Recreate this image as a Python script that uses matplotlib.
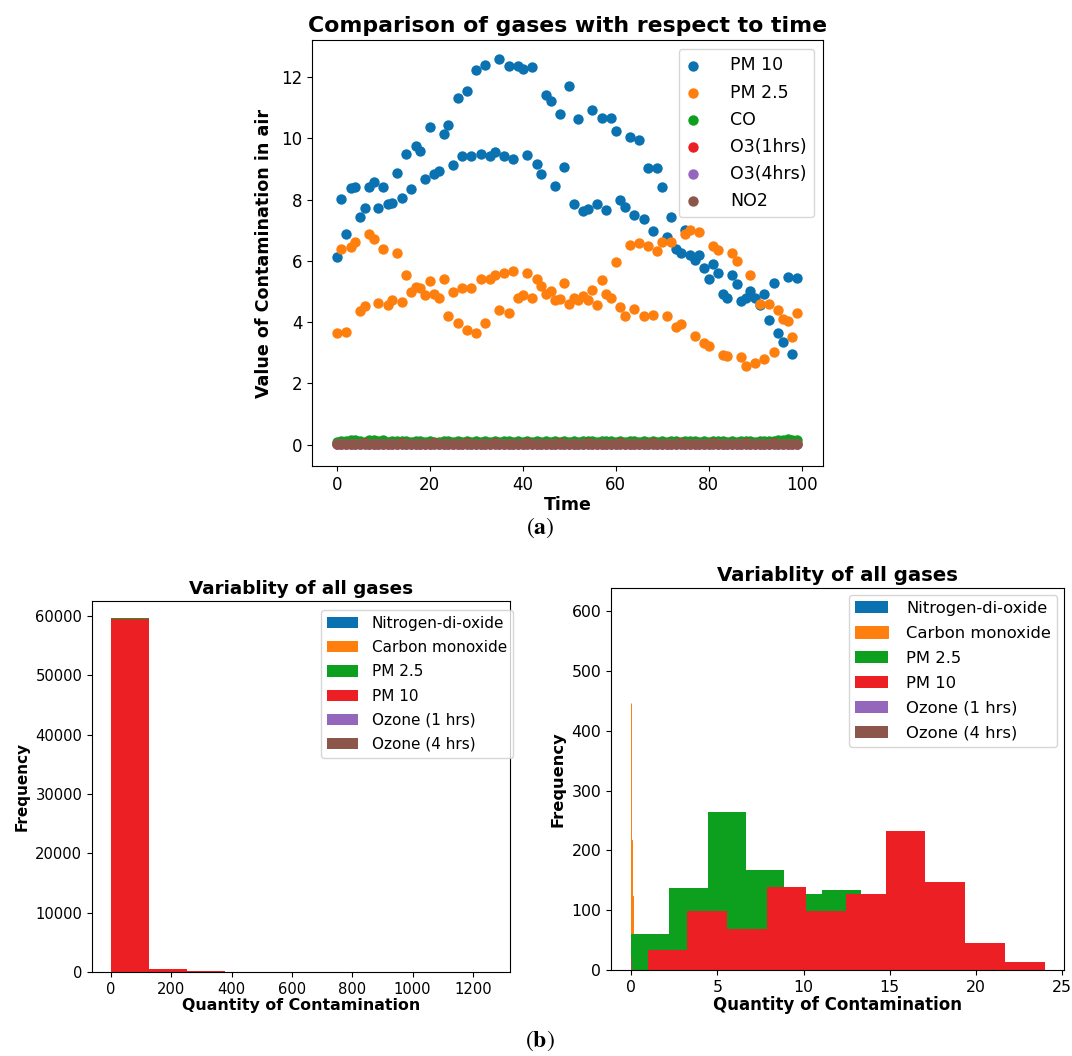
import numpy as np
import matplotlib
matplotlib.use('Agg')
from matplotlib import pyplot as plt

plt.rcParams['mathtext.fontset'] = 'stix'

# ---- top scatter data (index 0..99) ----
time = list(range(100))
pm10 = [6.11, 8.01, 6.86, 8.38, 8.42, 7.44, 7.74, 8.42, 8.58, 7.74,
        8.42, 7.84, 7.90, 8.87, 8.06, 9.50, 8.36, 9.75, 9.58, 8.67,
        10.36, 8.85, 8.94, 10.14, 10.45, 9.13, 11.33, 9.43, 11.55, 9.43,
        12.23, 9.48, 12.38, 9.43, 9.56, 12.58, 9.42, 12.37, 9.34, 12.37,
        12.26, 9.45, 12.34, 9.16, 8.82, 11.43, 11.23, 8.45, 10.81, 9.07,
        11.72, 7.87, 10.62, 7.62, 7.68, 10.92, 7.87, 10.65, 7.66, 10.67,
        10.25, 7.98, 7.76, 10.05, 7.50, 9.94, 7.35, 9.04, 6.98, 9.02,
        8.40, 6.78, 7.44, 6.40, 6.24, 7.02, 6.19, 6.02, 6.19, 5.77,
        5.39, 5.91, 5.59, 4.93, 4.80, 5.53, 5.23, 4.68, 4.77, 5.02,
        4.77, 4.55, 4.91, 4.06, 5.28, 3.63, 3.35, 5.46, 2.97, 5.44]
pm25 = [3.63, 6.38, 3.67, 6.46, 6.62, 4.37, 4.53, 6.86, 6.70, 4.63,
        6.40, 4.55, 4.72, 6.24, 4.66, 5.55, 4.99, 5.15, 5.10, 4.88,
        5.35, 4.90, 4.80, 5.39, 4.19, 4.97, 3.97, 5.12, 3.74, 5.10,
        3.63, 5.39, 3.97, 5.39, 5.55, 4.39, 5.59, 4.28, 5.67, 4.80,
        4.88, 5.59, 4.77, 5.39, 5.18, 4.90, 5.02, 4.72, 4.75, 5.28,
        4.58, 4.77, 4.72, 4.85, 4.72, 5.04, 4.57, 5.37, 4.91, 4.79,
        5.97, 4.48, 4.19, 6.51, 4.44, 6.59, 4.20, 6.48, 4.23, 6.33,
        6.60, 4.20, 6.62, 3.84, 3.93, 6.87, 7.02, 3.54, 6.95, 3.30,
        3.21, 6.49, 6.35, 2.94, 2.90, 6.24, 5.99, 2.87, 2.57, 5.55,
        2.67, 4.58, 2.78, 4.58, 3.03, 4.41, 4.09, 4.03, 3.50, 4.31]
co = [0.09, 0.11, 0.10, 0.15, 0.16, 0.10, 0.09, 0.16, 0.16, 0.11,
      0.15, 0.09, 0.10, 0.12, 0.10, 0.11, 0.09, 0.12, 0.10, 0.09,
      0.10, 0.08, 0.09, 0.10, 0.11, 0.09, 0.10, 0.09, 0.10, 0.09,
      0.10, 0.09, 0.10, 0.09, 0.10, 0.09, 0.10, 0.10, 0.09, 0.10,
      0.09, 0.10, 0.09, 0.10, 0.09, 0.10, 0.09, 0.10, 0.09, 0.10,
      0.09, 0.10, 0.09, 0.10, 0.10, 0.11, 0.09, 0.10, 0.11, 0.10,
      0.09, 0.10, 0.09, 0.11, 0.10, 0.09, 0.10, 0.09, 0.10, 0.09,
      0.10, 0.09, 0.11, 0.10, 0.09, 0.10, 0.11, 0.10, 0.09, 0.10,
      0.09, 0.10, 0.11, 0.10, 0.09, 0.10, 0.09, 0.10, 0.11, 0.10,
      0.09, 0.10, 0.11, 0.10, 0.12, 0.15, 0.16, 0.17, 0.16, 0.15]
o3_1 = [0.03, 0.02, 0.03, 0.03, 0.02, 0.03, 0.04, 0.03, 0.02, 0.03,
        0.03, 0.02, 0.03, 0.03, 0.04, 0.03, 0.02, 0.03, 0.03, 0.02,
        0.03, 0.04, 0.03, 0.02, 0.03, 0.03, 0.02, 0.03, 0.04, 0.03,
        0.03, 0.02, 0.03, 0.03, 0.04, 0.03, 0.02, 0.03, 0.03, 0.02,
        0.03, 0.04, 0.03, 0.02, 0.03, 0.03, 0.02, 0.03, 0.04, 0.03,
        0.03, 0.02, 0.03, 0.03, 0.04, 0.03, 0.02, 0.03, 0.03, 0.02,
        0.03, 0.04, 0.03, 0.02, 0.03, 0.03, 0.02, 0.03, 0.04, 0.03,
        0.03, 0.02, 0.03, 0.03, 0.04, 0.03, 0.02, 0.03, 0.03, 0.02,
        0.03, 0.04, 0.03, 0.02, 0.03, 0.03, 0.02, 0.03, 0.04, 0.03,
        0.03, 0.02, 0.03, 0.03, 0.04, 0.03, 0.02, 0.03, 0.03, 0.02]
o3_4 = [0.03, 0.03, 0.03, 0.03, 0.03, 0.03, 0.03, 0.03, 0.03, 0.03,
        0.03, 0.03, 0.03, 0.03, 0.03, 0.03, 0.03, 0.03, 0.03, 0.03,
        0.03, 0.03, 0.03, 0.03, 0.03, 0.03, 0.03, 0.03, 0.03, 0.03,
        0.03, 0.03, 0.03, 0.03, 0.03, 0.03, 0.03, 0.03, 0.03, 0.03,
        0.03, 0.03, 0.03, 0.03, 0.03, 0.03, 0.03, 0.03, 0.03, 0.03,
        0.03, 0.03, 0.03, 0.03, 0.03, 0.03, 0.03, 0.03, 0.03, 0.03,
        0.03, 0.03, 0.03, 0.03, 0.03, 0.03, 0.03, 0.03, 0.03, 0.03,
        0.03, 0.03, 0.03, 0.03, 0.03, 0.03, 0.03, 0.03, 0.03, 0.03,
        0.03, 0.03, 0.03, 0.03, 0.03, 0.03, 0.03, 0.03, 0.03, 0.03,
        0.03, 0.03, 0.03, 0.03, 0.03, 0.03, 0.03, 0.03, 0.03, 0.03]
no2 = [0.01, 0.01, 0.02, 0.01, 0.01, 0.02, 0.01, 0.01, 0.02, 0.01,
       0.01, 0.02, 0.01, 0.01, 0.02, 0.01, 0.01, 0.02, 0.01, 0.01,
       0.02, 0.01, 0.01, 0.02, 0.01, 0.01, 0.02, 0.01, 0.01, 0.02,
       0.01, 0.01, 0.02, 0.01, 0.01, 0.02, 0.01, 0.01, 0.02, 0.01,
       0.01, 0.02, 0.01, 0.01, 0.02, 0.01, 0.01, 0.02, 0.01, 0.01,
       0.02, 0.01, 0.01, 0.02, 0.01, 0.01, 0.02, 0.01, 0.01, 0.02,
       0.01, 0.01, 0.02, 0.01, 0.01, 0.02, 0.01, 0.01, 0.02, 0.01,
       0.01, 0.02, 0.01, 0.01, 0.02, 0.01, 0.01, 0.02, 0.01, 0.01,
       0.02, 0.01, 0.01, 0.02, 0.01, 0.01, 0.02, 0.01, 0.01, 0.02,
       0.01, 0.01, 0.02, 0.01, 0.01, 0.02, 0.01, 0.01, 0.02, 0.01]

# ---- histogram data (bin edges + counts) ----
hist_names = ['Nitrogen-di-oxide', 'Carbon monoxide', 'PM 2.5', 'PM 10',
              'Ozone (1 hrs)', 'Ozone (4 hrs)']
# left: shared bins
left_edges = [0, 126, 252, 378, 504, 630, 756, 882, 1008, 1134, 1260]
left_counts = [
    [59400, 300, 80, 10, 5, 2, 1, 1, 0, 1],   # NO2
    [59400, 300, 80, 10, 5, 2, 1, 1, 0, 1],   # CO
    [59600, 420, 150, 20, 5, 2, 1, 0, 0, 1],  # PM2.5
    [59500, 560, 220, 40, 10, 4, 2, 1, 1, 1], # PM10
    [0, 0, 0, 0, 0, 0, 0, 0, 0, 0],           # O3 1h
    [0, 0, 0, 0, 0, 0, 0, 0, 0, 0],           # O3 4h
]
# right: own bins per series
right_edges = [
    [0.0, 0.01, 0.02, 0.03, 0.04, 0.05, 0.06, 0.07, 0.08, 0.09, 0.10],
    [0.0, 0.02, 0.04, 0.06, 0.08, 0.10, 0.12, 0.14, 0.16, 0.18, 0.20],
    [0.0, 2.22, 4.44, 6.66, 8.88, 11.10, 13.32, 15.54, 17.76, 19.98, 22.20],
    [0.96, 3.26, 5.56, 7.87, 10.17, 12.47, 14.77, 17.07, 19.38, 21.68, 23.98],
    [0.0, 0.01, 0.02, 0.03, 0.04, 0.05, 0.06, 0.07, 0.08, 0.09, 0.10],
    [0.0, 0.01, 0.02, 0.03, 0.04, 0.05, 0.06, 0.07, 0.08, 0.09, 0.10],
]
right_counts = [
    [10, 30, 55, 58, 50, 40, 30, 20, 10, 5],
    [447, 218, 125, 125, 124, 122, 118, 40, 10, 5],
    [61, 137, 264, 168, 127, 133, 60, 35, 12, 3],
    [33, 99, 69, 139, 99, 127, 232, 148, 46, 13],
    [5, 10, 20, 25, 20, 10, 5, 3, 2, 1],
    [5, 10, 20, 25, 20, 10, 5, 3, 2, 1],
]
thin = [False, True, False, False, False, False]

colors = ['#0a72b0', '#ff7f0e', '#0ca01e', '#ec1f25', '#9467bd', '#8c564b']

W, H = 1072, 1056
fig = plt.figure(figsize=(W / 100, H / 100), dpi=100)

def px_axes(x0, y0, x1, y1):
    return fig.add_axes([x0 / W, 1 - y1 / H, (x1 - x0) / W, (y1 - y0) / H])

# ---- (a) scatter ----
ax = px_axes(312, 40, 823, 466)
series = [(pm10, 'PM 10'), (pm25, 'PM 2.5'), (co, 'CO'),
          (o3_1, 'O3(1hrs)'), (o3_4, 'O3(4hrs)'), (no2, 'NO2')]
for (vals, lab), c in zip(series, colors):
    ax.scatter(time, vals, s=56, color=c, label=lab, linewidths=0)
ax.set_xlim(-5.3, 104.6)
ax.set_ylim(-0.7, 13.21)
ax.set_xticks([0, 20, 40, 60, 80, 100])
ax.set_yticks([0, 2, 4, 6, 8, 10, 12])
ax.tick_params(labelsize=12)
ax.set_title('Comparison of gases with respect to time', fontsize=15.8,
             fontweight='bold', pad=6)
ax.set_xlabel('Time', fontsize=12.5, fontweight='bold', labelpad=2)
ax.set_ylabel('Value of Contamination in air', fontsize=12.6,
              fontweight='bold', labelpad=6)
ax.legend(loc='upper right', fontsize=12.5, handlelength=0.8,
          handletextpad=1.7, borderaxespad=0.5, labelspacing=0.52,
          borderpad=0.45)

fig.text(540 / W, 1 - 528 / H, r'$(\mathbf{a})$', fontsize=17,
         ha='center', va='center')

# ---- (b) left histogram ----
axl = px_axes(92, 601, 510, 972)
for name, cnt, c in zip(hist_names, left_counts, colors):
    axl.bar(left_edges[:-1], cnt, width=np.diff(left_edges), align='edge',
            color=c, label=name, linewidth=0)
axl.set_xlim(-63, 1323)
axl.set_ylim(0, 62522)
axl.set_xticks([0, 200, 400, 600, 800, 1000, 1200])
axl.tick_params(labelsize=10.6)
axl.set_title('Variablity of all gases', fontsize=13.2, fontweight='bold', pad=5)
axl.set_xlabel('Quantity of Contamination', fontsize=11.4, fontweight='bold',
               labelpad=1)
axl.set_ylabel('Frequency', fontsize=11, fontweight='bold')
axl.legend(loc='upper right', bbox_to_anchor=(1.007, 0.976), fontsize=11,
           handlelength=2.0, handleheight=0.75, handletextpad=0.9,
           labelspacing=0.6, borderaxespad=0)

# ---- (b) right histogram ----
axr = px_axes(611, 588, 1064, 970)
for name, edges, cnt, c, t in zip(hist_names, right_edges, right_counts,
                                  colors, thin):
    axr.bar(edges[:-1], cnt, width=np.diff(edges), align='edge',
            color=c, label=name, linewidth=0.7 if t else 0, edgecolor=c)
axr.set_xlim(-1.16, 25.1)
axr.set_ylim(0, 639)
axr.set_xticks([0, 5, 10, 15, 20, 25])
axr.tick_params(labelsize=11.3)
axr.set_title('Variablity of all gases', fontsize=14.2, fontweight='bold', pad=5)
axr.set_xlabel('Quantity of Contamination', fontsize=12, fontweight='bold',
               labelpad=1)
axr.set_ylabel('Frequency', fontsize=11.7, fontweight='bold')
axr.legend(loc='upper right', fontsize=11.8, handlelength=2.0,
           handleheight=0.75, handletextpad=1.1, labelspacing=0.6,
           borderaxespad=0.4)

fig.text(540 / W, 1 - 1041 / H, r'$(\mathbf{b})$', fontsize=17,
         ha='center', va='center')

fig.savefig('out.png', dpi=100)
